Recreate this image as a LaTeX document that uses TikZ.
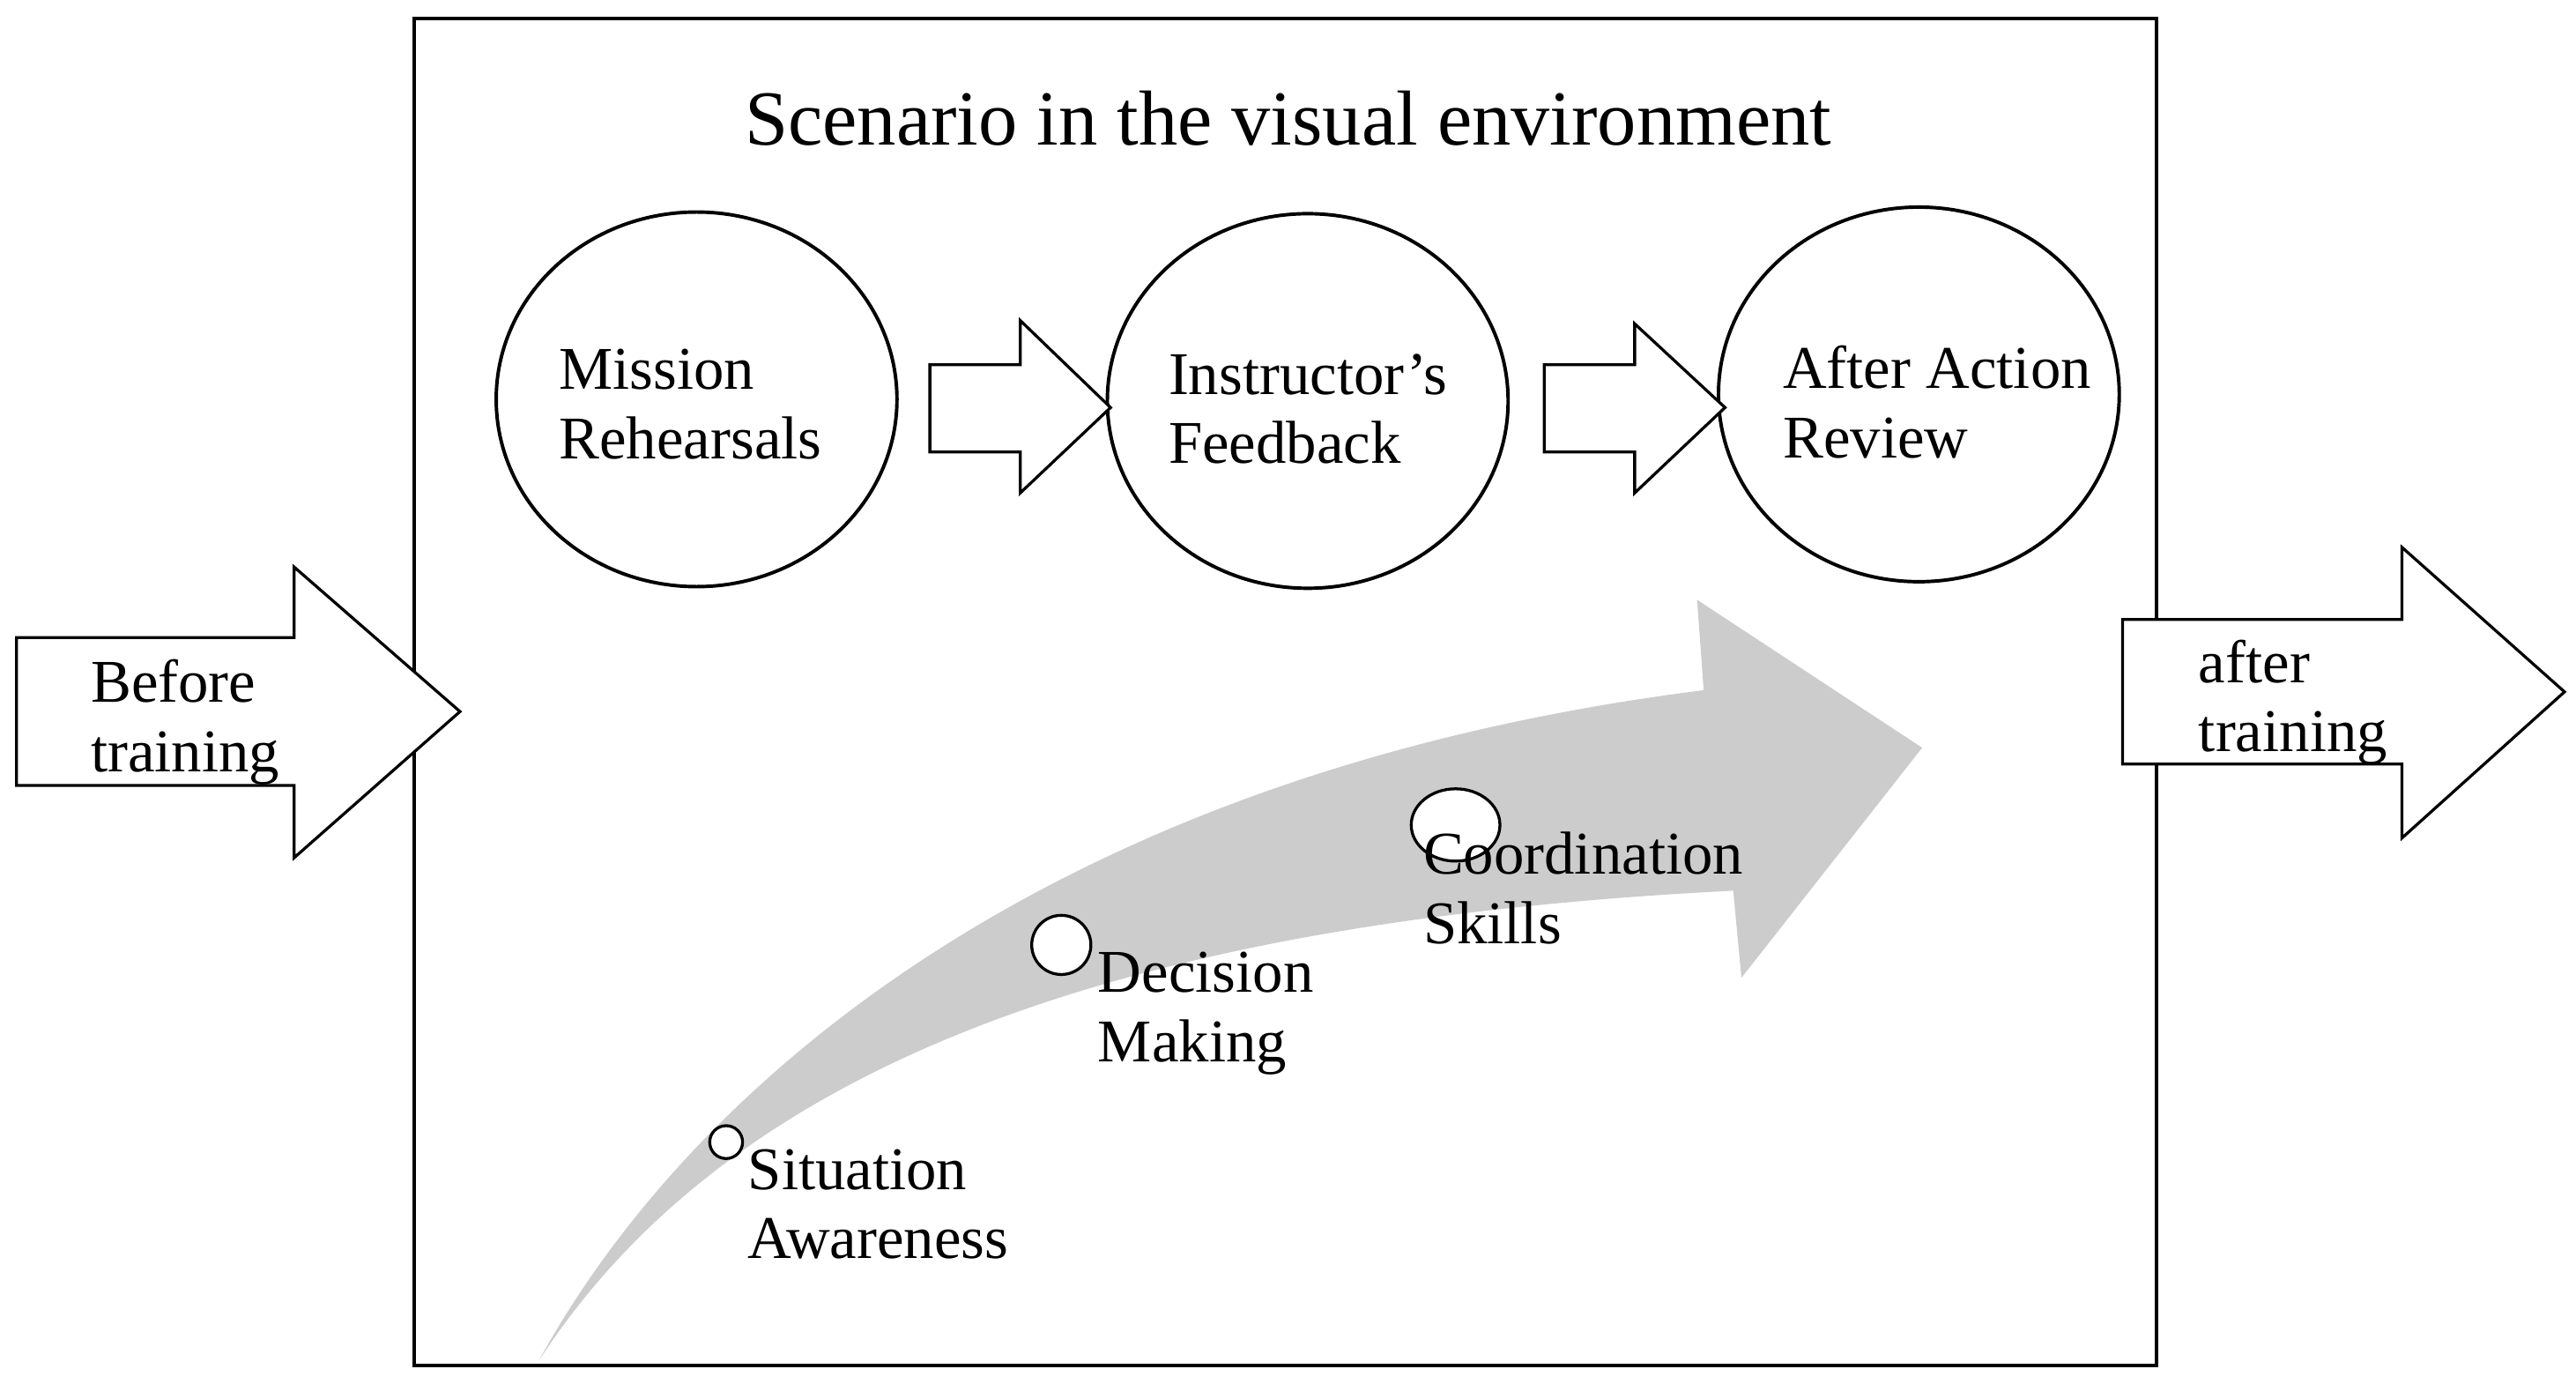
\documentclass[tikz,border=0pt]{standalone}
\usepackage{fontspec}
\setmainfont{Liberation Serif}
\usetikzlibrary{shapes.geometric}
\begin{document}
\begin{tikzpicture}[x=0.02cm,y=-0.02cm,
  circ/.style={draw,line width=1.2pt,ellipse,minimum width=4.88cm,minimum height=4.56cm},
  lbl/.style={align=left,anchor=north west,font=\fontsize{21}{24}\selectfont,inner sep=0pt},
  blk/.style={draw,line width=1pt,fill=white}]
\useasboundingbox (0,0) rectangle (1568,842);
\node[draw,line width=1.2pt,minimum width=21.22cm,minimum height=16.4cm,anchor=north west] (box) at (251,10) {};
\node[font=\fontsize{27}{30}\selectfont] (title) at (784,72) {Scenario in the visual environment};
% gray curved arrow
\fill[gray!40] (328,828) .. controls (420,660) and (640,470) .. (1037,420) -- (1033,365) -- (1170,455) -- (1060,595) -- (1055,542) .. controls (700,560) and (450,640) .. (328,828) -- cycle;
\node[circ] (c1) at (424,243) {};
\node[circ] (c2) at (796,244) {};
\node[circ] (c3) at (1168,240) {};
\node[lbl] (t1) at (340,212) {Mission\\Rehearsals};
\node[lbl] (t2) at (711,215) {Instructor’s\\Feedback};
\node[lbl] (t3) at (1085,210) {After Action\\Review};
\draw[blk] (566,222) -- (621,222) -- (621,195) -- (676,248) -- (621,300) -- (621,275) -- (566,275) -- cycle;
\draw[blk] (940,222) -- (995,222) -- (995,197) -- (1050,248) -- (995,300) -- (995,275) -- (940,275) -- cycle;
\draw[blk] (10,388) -- (179,388) -- (179,345) -- (280,433) -- (179,522) -- (179,478) -- (10,478) -- cycle;
\draw[blk] (1292,377) -- (1462,377) -- (1462,333) -- (1561,421) -- (1462,510) -- (1462,465) -- (1292,465) -- cycle;
\node[lbl] (bt) at (55,401) {Before\\training};
\node[lbl] (at) at (1338,389) {after\\training};
\draw[fill=white,line width=1pt] (442,695) circle (10);
\draw[fill=white,line width=1pt] (646,575) circle (18);
\draw[fill=white,line width=1pt] (886,502) ellipse (27 and 22);
\node[lbl] (s1) at (455,699) {Situation\\Awareness};
\node[lbl] (s2) at (668,579) {Decision\\Making};
\node[lbl] (s3) at (866,506) {Coordination\\Skills};
\end{tikzpicture}
\end{document}
